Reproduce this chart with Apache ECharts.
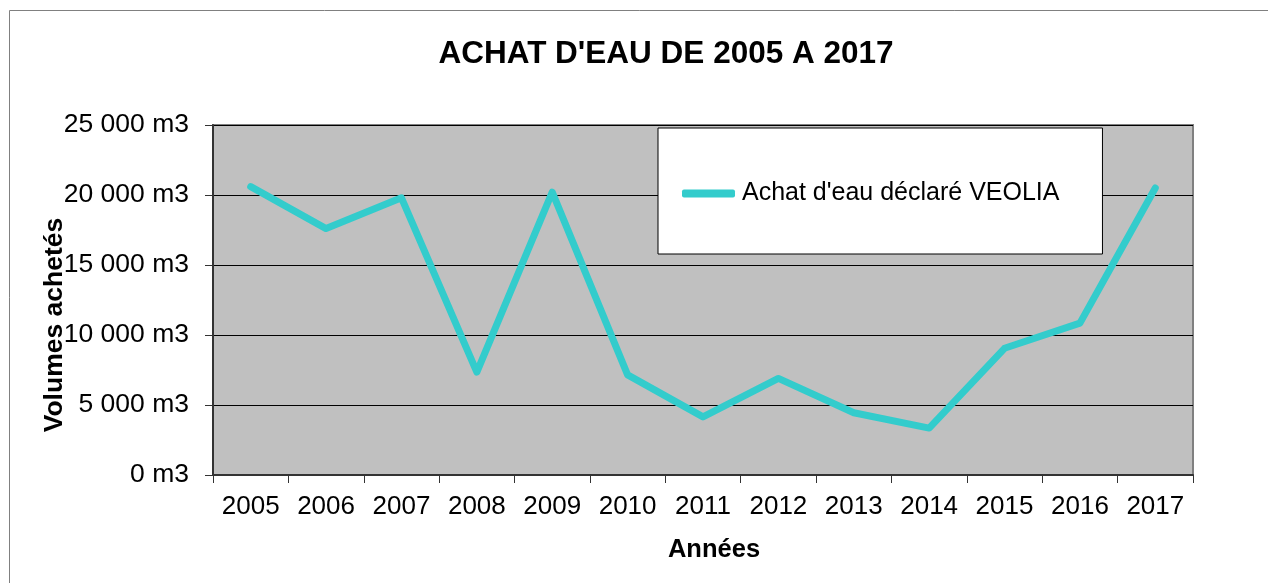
<!DOCTYPE html>
<html>
<head>
<meta charset="utf-8">
<script src="https://cdn.jsdelivr.net/npm/echarts@6/dist/echarts.min.js"></script>
<style>
  html, body { margin: 0; padding: 0; background: #fff; }
  #chart { width: 1268px; height: 583px; }
</style>
</head>
<body>
<div id="chart"></div>
<script>
(function () {
    'use strict';

    var years = ['2005', '2006', '2007', '2008', '2009', '2010', '2011', '2012', '2013', '2014', '2015', '2016', '2017'];
    var volumes = [20600, 17600, 19800, 7350, 20200, 7150, 4150, 6900, 4450, 3350, 9050, 10850, 20500];
    var seriesName = "Achat d'eau déclaré VEOLIA";

    var font = '"Liberation Sans", Arial, sans-serif';

    function fmtM3(v) {
        var s = String(v).replace(/\B(?=(\d{3})+(?!\d))/g, ' ');
        return s + ' m3';
    }

    var chart = echarts.init(document.getElementById('chart'), null, { renderer: 'canvas' });

    chart.setOption({
        backgroundColor: '#ffffff',
        animation: false,
        textStyle: { fontFamily: font },
        graphic: [{
            type: 'rect',
            shape: { x: 9.5, y: 10.5, width: 1300, height: 620 },
            style: { fill: 'none', stroke: '#808080', lineWidth: 1 },
            silent: true
        }],
        title: {
            text: "ACHAT D'EAU DE 2005 A 2017",
            left: 661,
            top: 33,
            textAlign: 'center',
            textStyle: { fontSize: 31.5, fontWeight: 'bold', color: '#000', fontFamily: font }
        },
        legend: {
            left: 658,
            top: 128,
            orient: 'horizontal',
            backgroundColor: '#ffffff',
            borderColor: '#000000',
            borderWidth: 1,
            borderRadius: 0,
            padding: [53, 43, 48, 24],
            itemWidth: 53,
            itemHeight: 8,
            icon: 'roundRect',
            textStyle: { fontSize: 25, color: '#000', fontFamily: font, padding: [0, 0, 0, 2] },
            data: [seriesName]
        },
        grid: {
            left: 213,
            top: 125,
            width: 980,
            height: 350,
            show: true,
            backgroundColor: '#c0c0c0',
            borderColor: '#808080',
            borderWidth: 2
        },
        xAxis: {
            type: 'category',
            data: years,
            boundaryGap: true,
            name: 'Années',
            nameLocation: 'middle',
            nameGap: 62,
            nameMoveOverlap: false,
            nameTextStyle: { fontSize: 25.5, fontWeight: 'bold', color: '#000', padding: [0, 0, 0, 22] },
            axisLine: { show: true, lineStyle: { color: '#333', width: 2 } },
            axisTick: { show: true, length: 8, lineStyle: { color: '#333' } },
            axisLabel: { fontSize: 26, color: '#000', margin: 19 }
        },
        yAxis: {
            type: 'value',
            min: 0,
            max: 25000,
            interval: 5000,
            name: 'Volumes achetés',
            nameLocation: 'middle',
            nameRotate: 90,
            nameGap: 145,
            nameMoveOverlap: false,
            nameTextStyle: { fontSize: 26.5, fontWeight: 'bold', color: '#000', padding: [0, 50, 0, 0] },
            axisLine: { show: true, lineStyle: { color: '#333', width: 2 } },
            axisTick: { show: true, length: 8, lineStyle: { color: '#333' } },
            axisLabel: { fontSize: 26.5, color: '#000', margin: 24, formatter: fmtM3 },
            splitLine: { show: true, lineStyle: { color: '#000', width: 1 } }
        },
        series: [{
            name: seriesName,
            type: 'line',
            data: volumes,
            symbol: 'none',
            color: '#33cccc',
            lineStyle: { color: '#33cccc', width: 7, cap: 'round', join: 'round' }
        }]
    });
}());
</script>
</body>
</html>
